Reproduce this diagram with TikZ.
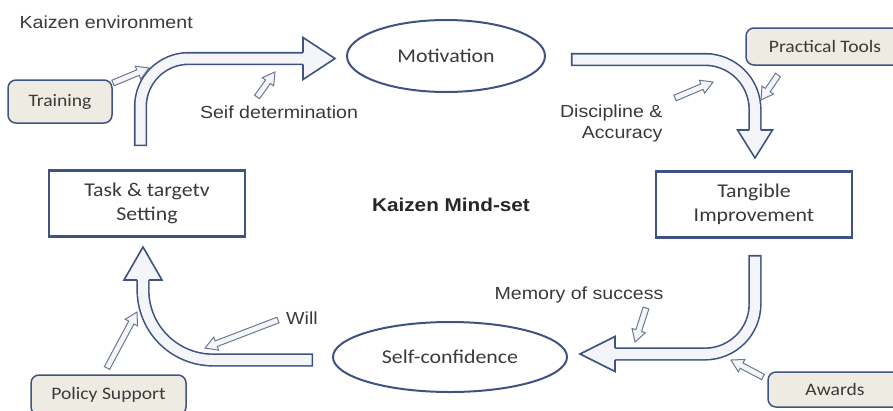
\documentclass[tikz,border=0pt]{standalone}
\usepackage{fontspec}
\setmainfont{Liberation Sans}[FakeStretch=1.12]
\newfontfamily\calfont{Carlito}[FakeStretch=1.12]
\usetikzlibrary{shapes.geometric,calc}
\definecolor{edge}{HTML}{3F5382}
\definecolor{pale}{HTML}{F4F5F9}
\definecolor{sand}{HTML}{EEEBE2}
\definecolor{ink}{HTML}{3A3A3A}
\definecolor{slate}{HTML}{6B7890}
\tikzset{
  stage/.style={draw=edge, line width=2.5pt, fill=white, minimum width=196pt, minimum height=66pt,
    align=center, text=ink, font=\calfont\fontsize{19.5}{24}\selectfont},
  mood/.style={ellipse, draw=edge, line width=2pt, text=ink, font=\calfont\fontsize{19.5}{24}\selectfont},
  factor/.style={draw=edge, line width=1.5pt, fill=sand, rounded corners=8pt, text=ink,
    font=\calfont\fontsize{17.5}{21}\selectfont},
  note/.style={text=ink, align=center, font=\fontsize{17.5}{21}\selectfont},
  flow/.style={double=pale, double distance=10pt, line width=1.6pt, draw=edge, line cap=rect, line join=round},
  flowhead/.style={draw=edge, fill=pale, line width=1.6pt, line join=miter},
  hollow/.style={draw=slate, fill=pale, line width=1pt, line join=miter}
}
% head of a big arrow: base centre, tip, half width
\newcommand\arrowhead[3]{%
  \filldraw[flowhead] ($(#1)!5.8pt!90:(#2)$) -- ($(#1)!#3!90:(#2)$) -- (#2)
    -- ($(#1)!#3!-90:(#2)$) -- ($(#1)!5.8pt!-90:(#2)$);}
% small hollow arrow from #1 to #2
\newcommand\hollowarrow[2]{%
  \coordinate (hb) at ($(#2)!12pt!(#1)$);
  \draw[hollow] ($(#1)!3pt!90:(#2)$) -- ($(hb)!3pt!-90:(#1)$) -- ($(hb)!7pt!-90:(#1)$) -- (#2)
    -- ($(hb)!7pt!90:(#1)$) -- ($(hb)!3pt!90:(#1)$) -- ($(#1)!3pt!-90:(#2)$) -- cycle;}
\begin{document}
\begin{tikzpicture}[x=1pt,y=-1pt]
  \useasboundingbox (0,0) rectangle (893,410);

  % cycle
  \node[mood, minimum width=198pt, minimum height=72pt] (motiv) at (446,56) {Motivation};
  \node[stage] (tangible) at (754,204.5) {Tangible\\Improvement};
  \node[mood, minimum width=234pt, minimum height=70pt] (confid) at (450,357) {Self-confidence};
  \node[stage] (task) at (147,203.5) {Task \& targetv\\Setting};
  \node[font=\bfseries\fontsize{18.5}{22}\selectfont, text=black!85] (mindset) at (451,205) {Kaizen Mind-set};

  % environment
  \node[note, anchor=west] (env) at (16,22) {Kaizen environment};
  \node[factor, minimum width=104pt, minimum height=43pt] (training) at (60,101.5) {Training};
  \node[factor, minimum width=158pt, minimum height=37pt] (tools) at (825,46.5) {Practical Tools};
  \node[factor, minimum width=134pt, minimum height=35pt] (awards) at (835,389.5) {Awards};
  \node[factor, minimum width=155pt, minimum height=40pt] (policy) at (108.5,395) {Policy Support};

  \node[note] (seif) at (279,112) {Seif determination};
  \node[note, anchor=east] (discip) at (666,123) {Discipline \&\\\hspace*{0pt}\hfill Accuracy};
  \node[note] (memory) at (579,295) {Memory of success};
  \node[note] (will) at (302,318) {Will};

  % big arrows
  \coordinate (tA) at (140.5,139.5); \coordinate (eA) at (300,58.5);
  \coordinate (bA) at (303,58.5);    \coordinate (hA) at (335,58.5);
  \draw[flow, rounded corners=48pt] (tA) |- (eA);
  \arrowhead{bA}{hA}{21pt}

  \coordinate (tB) at (577.5,59.5); \coordinate (eB) at (755,127);
  \coordinate (bB) at (755,130);    \coordinate (hB) at (755,158);
  \draw[flow, rounded corners=50pt] (tB) -| (eB);
  \arrowhead{bB}{hB}{17.5pt}

  \coordinate (tC) at (755,261.5); \coordinate (eC) at (618,354);
  \coordinate (bC) at (615,354);   \coordinate (hC) at (580,354);
  \draw[flow, rounded corners=50pt] (tC) |- (eC);
  \arrowhead{bC}{hC}{17.5pt}

  \coordinate (tD) at (306.5,360); \coordinate (eD) at (143,283);
  \coordinate (bD) at (143,280);   \coordinate (hD) at (143,247);
  \draw[flow, rounded corners=70pt] (tD) -| (eD);
  \arrowhead{bD}{hD}{19pt}

  % small arrows
  \coordinate (s1) at (113,83);  \coordinate (p1) at (149,68);
  \coordinate (s2) at (257,97);  \coordinate (p2) at (275,72);
  \coordinate (s3) at (675,98);  \coordinate (p3) at (713,82);
  \coordinate (s4) at (778,75);  \coordinate (p4) at (761,100);
  \coordinate (s5) at (646,308); \coordinate (p5) at (635,342);
  \coordinate (s6) at (763,377); \coordinate (p6) at (731,360);
  \coordinate (s7) at (278,320); \coordinate (p7) at (205,348);
  \coordinate (s8) at (107,368); \coordinate (p8) at (137,312);
  \foreach \i in {1,...,8} {\hollowarrow{s\i}{p\i}}
\end{tikzpicture}
\end{document}
